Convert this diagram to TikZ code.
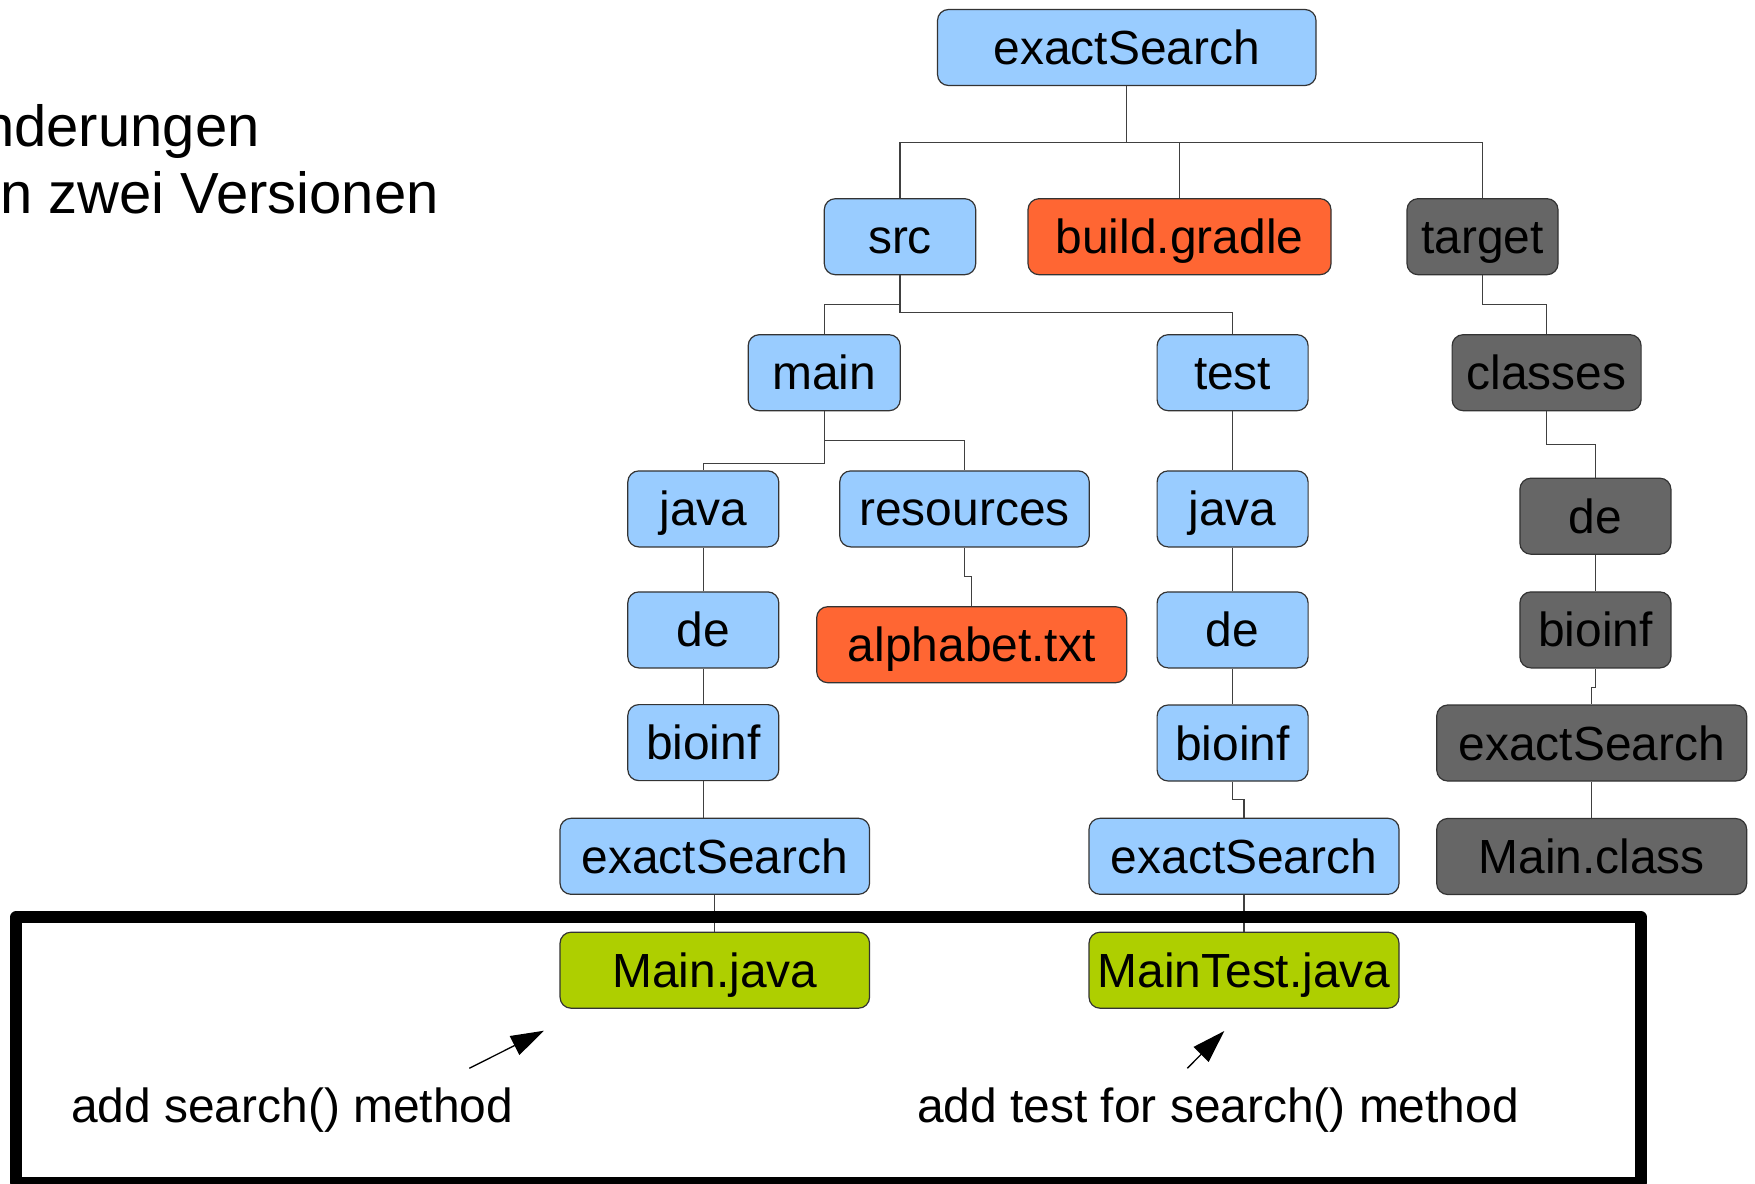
\documentclass[tikz,border=0pt]{standalone}
\usepackage{fontspec}
\setmainfont{Liberation Sans}
\usetikzlibrary{arrows.meta}
\definecolor{folderblue}{HTML}{99CCFF}
\definecolor{fileorange}{HTML}{FF6633}
\definecolor{builtgray}{HTML}{666666}
\definecolor{srcgreen}{HTML}{AECF00}
\begin{document}
\begin{tikzpicture}[x=1pt,y=-1pt,
  box/.style={draw=black!80, line width=1.2pt, rounded corners=11pt, minimum height=76pt,
    inner sep=0pt, text height=34pt, text depth=0pt, font=\fontsize{47.9}{50}\selectfont},
  bluebox/.style={box, fill=folderblue},
  orangebox/.style={box, fill=fileorange},
  graybox/.style={box, fill=builtgray},
  greenbox/.style={box, fill=srcgreen},
  conn/.style={draw=black!75, line width=1.3pt},
  plaintext/.style={anchor=base west, inner sep=0pt, font=\fontsize{47.9}{50}\selectfont},
  titletext/.style={anchor=base west, inner sep=0pt, font=\fontsize{58}{60}\selectfont},
  pointer/.style={line width=1.3pt, -{Triangle[length=33pt,width=21pt]}}
]
\useasboundingbox (0,0) rectangle (1755,1183);

% title (cut at left edge)
\node[titletext] (title1) at (-18,146.7) {nderungen};
\node[titletext] (title2) at (0,213.3) {n zwei Versionen};

% nodes
\node[bluebox, minimum width=378.5pt] (root) at (1126.75,47.5) {exactSearch};
\node[bluebox, minimum width=151.4pt] (src) at (900,236.7) {src};
\node[orangebox, minimum width=303pt] (build) at (1179.5,236.7) {build.gradle};
\node[graybox, minimum width=151pt] (target) at (1482.5,236.7) {target};

\node[bluebox, minimum width=152pt] (main) at (824.2,372.7) {main};
\node[bluebox, minimum width=151pt] (test) at (1232.6,372.7) {test};
\node[graybox, minimum width=189pt] (classes) at (1546.6,372.7) {classes};

\node[bluebox, minimum width=151pt] (javam) at (703.3,508.9) {java};
\node[bluebox, minimum width=249.5pt] (res) at (964.5,508.9) {resources};
\node[bluebox, minimum width=151pt] (javat) at (1232.6,508.9) {java};
\node[graybox, minimum width=151pt] (ded) at (1595.4,516.2) {de};

\node[bluebox, minimum width=151pt] (dem) at (703.3,629.9) {de};
\node[orangebox, minimum width=310pt] (alpha) at (971.7,644.7) {alphabet.txt};
\node[bluebox, minimum width=151pt] (det) at (1232.6,629.9) {de};
\node[graybox, minimum width=151pt] (bioinfd) at (1595.4,629.9) {bioinf};

\node[bluebox, minimum width=151pt] (bioinfm) at (703.3,742.6) {bioinf};
\node[bluebox, minimum width=151pt] (bioinft) at (1232.6,743) {bioinf};
\node[graybox, minimum width=310pt] (esd) at (1591.7,743) {exactSearch};

\node[bluebox, minimum width=309.5pt] (esm) at (714.8,856.3) {exactSearch};
\node[bluebox, minimum width=310pt] (est) at (1244,856.3) {exactSearch};
\node[graybox, minimum width=310pt] (mainclass) at (1591.7,856.5) {Main.class};

\node[greenbox, minimum width=309.5pt] (mainjava) at (714.8,970.2) {Main.java};
\node[greenbox, minimum width=310pt] (maintest) at (1244,970.2) {MainTest.java};

% connector levels
\coordinate (busy) at (0,142.3);
\coordinate (lvA) at (0,304.7);
\coordinate (lvB) at (0,312.2);
\coordinate (lvC) at (0,440.7);
\coordinate (lvD) at (0,463.3);
\coordinate (lvE) at (0,444.7);
\coordinate (lvF) at (0,576.7);
\coordinate (lvG) at (0,799.4);
\coordinate (lvH) at (0,687.3);

% connectors
\draw[conn] (root.south) -- (root.south |- busy);
\draw[conn] (src.north) -- (src.north |- busy) -| (target.north);
\draw[conn] (build.north) -- (build.north |- busy);
\draw[conn] (src.south) -- (src.south |- lvA) -| (main.north);
\draw[conn] (src.south) -- (src.south |- lvB) -| (test.north);
\draw[conn] (target.south) -- (target.south |- lvA) -| (classes.north);
\draw[conn] (main.south) -- (main.south |- lvD) -| (javam.north);
\draw[conn] (main.south) -- (main.south |- lvC) -| (res.north);
\draw[conn] (classes.south) -- (classes.south |- lvE) -| (ded.north);
\draw[conn] (test.south) -- (javat.north);
\draw[conn] (res.south) -- (res.south |- lvF) -| (alpha.north);
\draw[conn] (javam.south) -- (dem.north);
\draw[conn] (dem.south) -- (bioinfm.north);
\draw[conn] (bioinfm.south) -- (bioinfm.south |- esm.north);
\draw[conn] (esm.south) -- (mainjava.north);
\draw[conn] (javat.south) -- (det.north);
\draw[conn] (det.south) -- (bioinft.north);
\draw[conn] (bioinft.south) -- (bioinft.south |- lvG) -| (est.north);
\draw[conn] (est.south) -- (maintest.north);
\draw[conn] (ded.south) -- (bioinfd.north);
\draw[conn] (bioinfd.south) -- (bioinfd.south |- lvH) -| (esd.north);
\draw[conn] (esd.south) -- (mainclass.north);

% highlight frame
\draw[line width=11.7pt, line join=round] (16,917.2) rectangle (1641,1182.4);

% annotations
\node[plaintext] (note1) at (71,1122) {add search() method};
\node[plaintext] (note2) at (917,1122) {add test for search() method};
\coordinate (a1s) at (469.3,1068.3);
\coordinate (a1t) at (544,1030.7);
\coordinate (a2s) at (1187.3,1068.3);
\coordinate (a2t) at (1224.3,1031);
\draw[pointer] (a1s) -- (a1t);
\draw[pointer] (a2s) -- (a2t);
\end{tikzpicture}
\end{document}
